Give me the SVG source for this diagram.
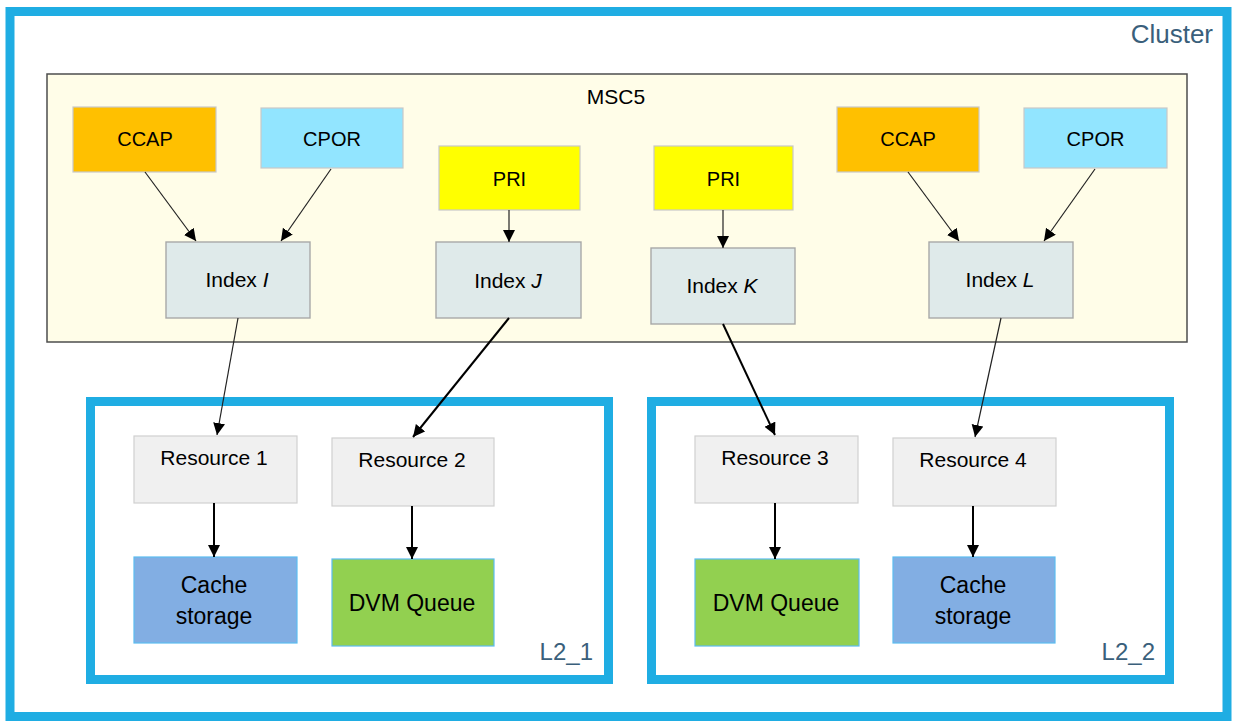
<svg xmlns="http://www.w3.org/2000/svg" width="1233" height="722" viewBox="0 0 1233 722">
<defs>
<style>
.t{font-family:"Liberation Sans",Arial,sans-serif;fill:#000;text-anchor:middle}
.lbl{font-family:"Liberation Sans",Arial,sans-serif;fill:#3a5f7b;text-anchor:end}
.ccap{fill:#ffc000;stroke:#c8c8c8;stroke-width:1.2}
.cpor{fill:#92e5ff;stroke:#c8c8c8;stroke-width:1.2}
.pri{fill:#ffff00;stroke:#c8c8c8;stroke-width:1.2}
.idx{fill:#dfeaea;stroke:#a8a8a8;stroke-width:1.4}
.res{fill:#f0f0f0;stroke:#d0d0d0;stroke-width:1.2}
.cache{fill:#82aee3;stroke:#5cbcf0;stroke-width:1.2}
.dvm{fill:#92d050;stroke:#5cbcf0;stroke-width:1.2}
.zone{fill:#fff;stroke:#1fade3;stroke-width:9}
.thin{stroke:#222;stroke-width:1.2;fill:none;marker-end:url(#ah)}
.thick{stroke:#000;stroke-width:2;fill:none;marker-end:url(#ah)}
</style>
<marker id="ah" markerUnits="userSpaceOnUse" markerWidth="14" markerHeight="14" refX="12" refY="6" orient="auto">
<path d="M0,0 L12,6 L0,12 z" fill="#000"/>
</marker>
</defs>
<rect width="1233" height="722" fill="#fff"/>
<g id="cluster">
<rect class="zone" x="10" y="11.5" width="1217" height="705"/>
<text class="lbl" x="1213" y="43" font-size="26">Cluster</text>
</g>
<g id="msc5">
<rect x="47" y="74" width="1140" height="268" fill="#fffde8" stroke="#4d4d4d" stroke-width="1.5"/>
<text class="t" x="616" y="104" font-size="21">MSC5</text>
</g>
<g id="l2_1">
<rect class="zone" x="90.5" y="401.5" width="518" height="278"/>
<text class="lbl" x="593" y="660" font-size="24">L2_1</text>
</g>
<g id="l2_2">
<rect class="zone" x="651.5" y="401.5" width="518" height="278"/>
<text class="lbl" x="1155" y="660" font-size="24">L2_2</text>
</g>
<g id="ccap1"><rect class="ccap" x="73" y="107" width="143" height="65"/><text class="t" x="145" y="146" font-size="20">CCAP</text></g>
<g id="cpor1"><rect class="cpor" x="261" y="108" width="142" height="60"/><text class="t" x="332" y="146" font-size="20">CPOR</text></g>
<g id="pri1"><rect class="pri" x="439" y="146" width="141" height="64"/><text class="t" x="509.5" y="186" font-size="20">PRI</text></g>
<g id="pri2"><rect class="pri" x="654" y="146" width="139" height="64"/><text class="t" x="723.5" y="186" font-size="20">PRI</text></g>
<g id="ccap2"><rect class="ccap" x="837" y="107" width="142" height="65"/><text class="t" x="908" y="146" font-size="20">CCAP</text></g>
<g id="cpor2"><rect class="cpor" x="1024" y="108" width="143" height="60"/><text class="t" x="1095.5" y="146" font-size="20">CPOR</text></g>
<g id="indexI"><rect class="idx" x="166" y="242" width="144" height="76"/><text class="t" x="237" y="287" font-size="21">Index <tspan font-style="italic">I</tspan></text></g>
<g id="indexJ"><rect class="idx" x="436" y="242" width="145" height="76"/><text class="t" x="508" y="288" font-size="21">Index <tspan font-style="italic">J</tspan></text></g>
<g id="indexK"><rect class="idx" x="651" y="248" width="144" height="76"/><text class="t" x="722" y="293" font-size="21">Index <tspan font-style="italic">K</tspan></text></g>
<g id="indexL"><rect class="idx" x="929" y="242" width="144" height="76"/><text class="t" x="1000" y="287" font-size="21">Index <tspan font-style="italic">L</tspan></text></g>
<g id="res1"><rect class="res" x="134" y="436" width="163" height="67"/><text class="t" x="214" y="465" font-size="21">Resource 1</text></g>
<g id="res2"><rect class="res" x="332" y="438" width="162" height="68"/><text class="t" x="412" y="467" font-size="21">Resource 2</text></g>
<g id="res3"><rect class="res" x="695" y="436" width="163" height="67"/><text class="t" x="775" y="465" font-size="21">Resource 3</text></g>
<g id="res4"><rect class="res" x="893" y="438" width="163" height="68"/><text class="t" x="973" y="467" font-size="21">Resource 4</text></g>
<g id="cache1"><rect class="cache" x="134" y="557" width="163" height="86"/><text class="t" x="214" y="593" font-size="23">Cache</text><text class="t" x="214" y="624" font-size="23">storage</text></g>
<g id="dvm1"><rect class="dvm" x="332" y="559" width="162" height="87"/><text class="t" x="412" y="611" font-size="23">DVM Queue</text></g>
<g id="dvm2"><rect class="dvm" x="695" y="559" width="164" height="87"/><text class="t" x="776" y="611" font-size="23">DVM Queue</text></g>
<g id="cache2"><rect class="cache" x="893" y="557" width="162" height="86"/><text class="t" x="973" y="593" font-size="23">Cache</text><text class="t" x="973" y="624" font-size="23">storage</text></g>
<g id="connectors">
<line class="thin" x1="145" y1="172" x2="196" y2="241"/>
<line class="thin" x1="331" y1="169" x2="281" y2="241"/>
<line class="thin" x1="509" y1="210" x2="509" y2="242"/>
<line class="thin" x1="723" y1="210" x2="723" y2="248"/>
<line class="thin" x1="908" y1="172" x2="959" y2="241"/>
<line class="thin" x1="1095" y1="169" x2="1044" y2="241"/>
<line class="thin" x1="238" y1="318" x2="217" y2="435"/>
<line class="thick" x1="509" y1="318" x2="413" y2="437"/>
<line class="thick" x1="723" y1="324" x2="775" y2="435"/>
<line class="thin" x1="1001" y1="318" x2="975" y2="437"/>
<line class="thick" x1="214" y1="503" x2="214" y2="557"/>
<line class="thick" x1="412" y1="506" x2="412" y2="559"/>
<line class="thick" x1="775" y1="503" x2="775" y2="559"/>
<line class="thick" x1="973" y1="506" x2="973" y2="557"/>
</g>
</svg>
